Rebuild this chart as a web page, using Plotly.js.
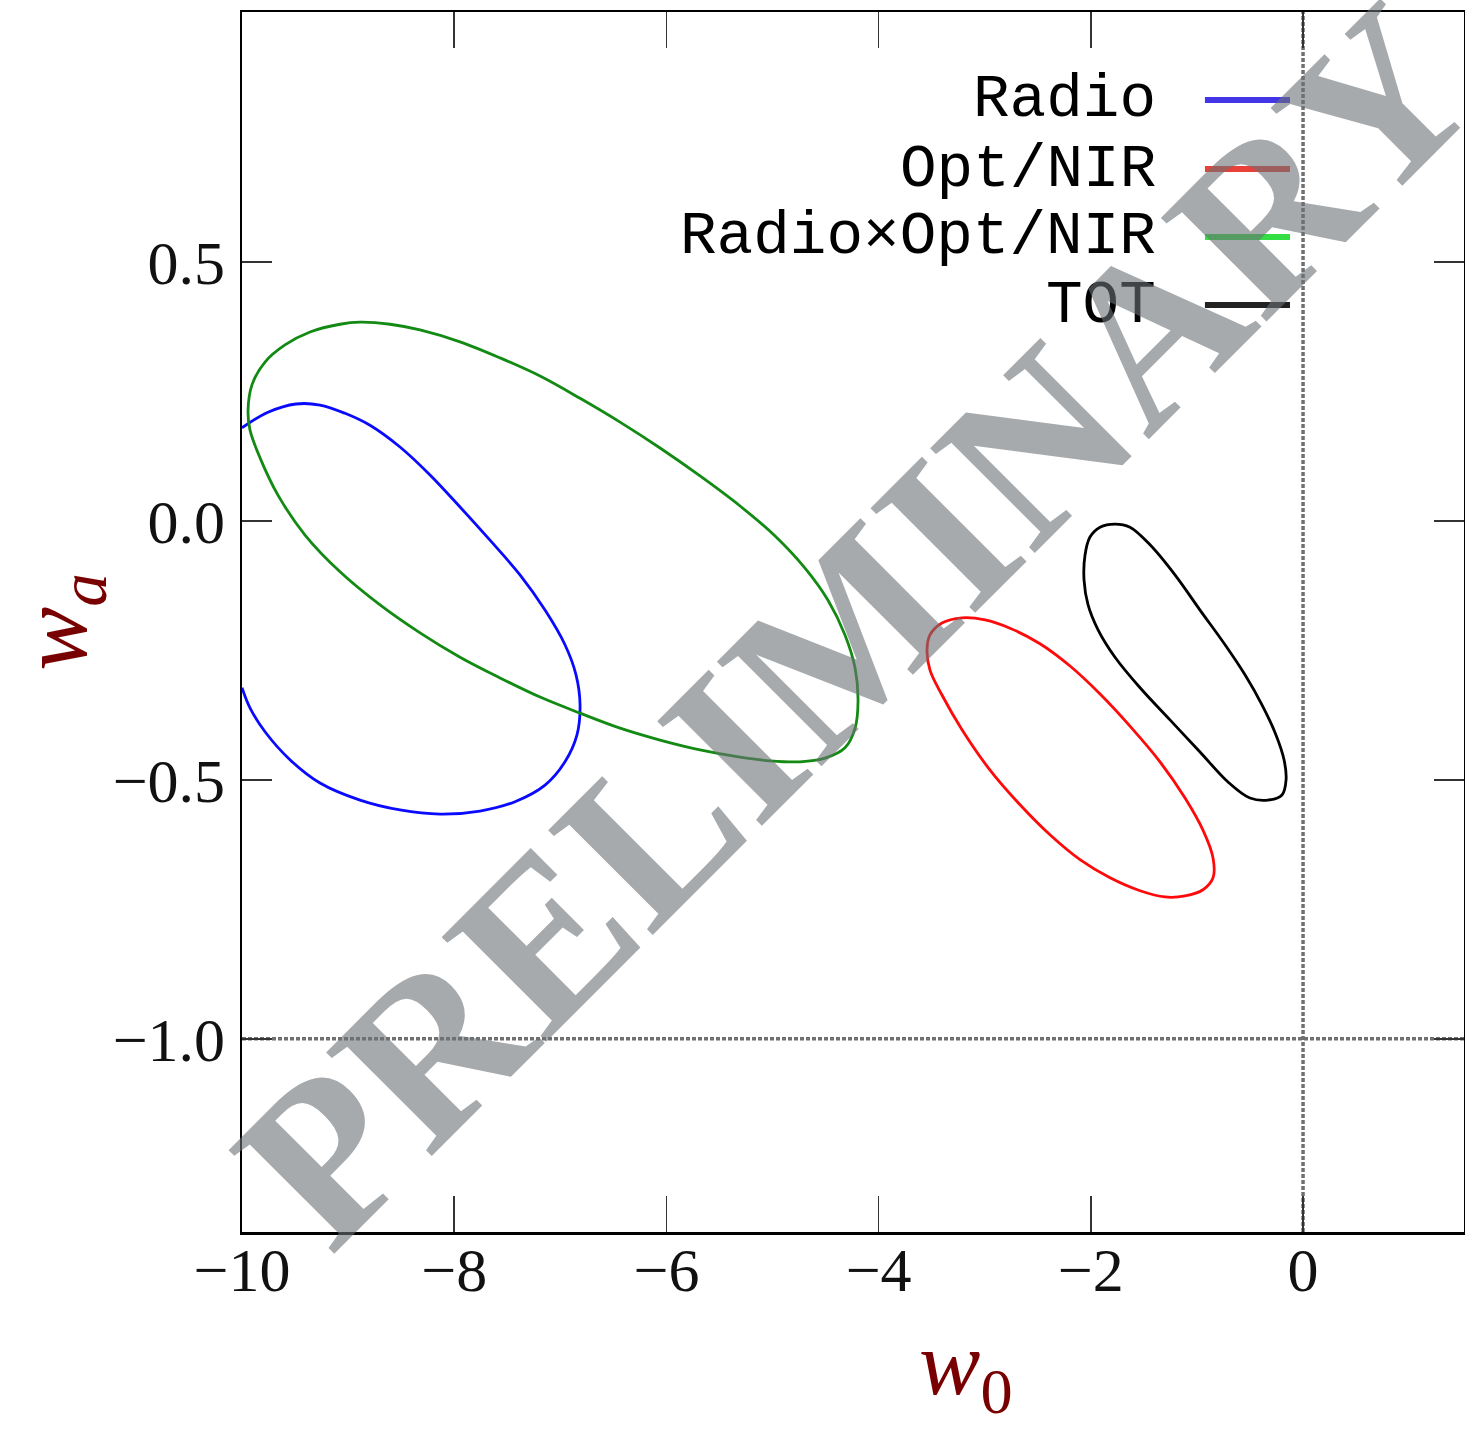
<!DOCTYPE html>
<html>
<head>
<meta charset="utf-8">
<script src="https://cdn.plot.ly/plotly-3.0.1.min.js"></script>
<style>
html, body { margin: 0; padding: 0; background: #fff; overflow: hidden; }
#chart { width: 1465px; height: 1429px; }
</style>
</head>
<body>
<div id="chart"></div>
<script>
// ---- data ----
const seriesNames = ['Radio', 'Opt/NIR', 'Radio×Opt/NIR', 'TOT'];

const radioW0 = [-10.000, -9.755, -9.491, -9.265, -9.029, -8.794, -8.511, -8.228, -7.945, -7.663, -7.380, -7.144, -6.956, -6.852, -6.814, -6.843, -6.956, -7.144, -7.427, -7.757, -8.134, -8.511, -8.888, -9.265, -9.548, -9.783, -9.925, -10.000];
const radioWa = [0.180, 0.210, 0.226, 0.224, 0.208, 0.185, 0.143, 0.089, 0.027, -0.037, -0.104, -0.172, -0.239, -0.297, -0.355, -0.413, -0.465, -0.510, -0.542, -0.560, -0.566, -0.558, -0.539, -0.506, -0.461, -0.407, -0.361, -0.322];

const optW0 = [-1.913, -1.631, -1.348, -1.112, -0.943, -0.848, -0.848, -0.943, -1.112, -1.301, -1.536, -1.819, -2.102, -2.385, -2.667, -2.950, -3.214, -3.403, -3.516, -3.544, -3.516, -3.403, -3.214, -2.997, -2.762, -2.479, -2.196, -1.913];
const optWa = [-0.334, -0.396, -0.465, -0.535, -0.597, -0.651, -0.689, -0.712, -0.724, -0.726, -0.714, -0.689, -0.654, -0.606, -0.548, -0.481, -0.403, -0.336, -0.288, -0.249, -0.220, -0.197, -0.187, -0.191, -0.207, -0.237, -0.280, -0.334];

const crossW0 = [-6.814, -6.437, -6.060, -5.683, -5.306, -4.976, -4.694, -4.477, -4.317, -4.222, -4.194, -4.222, -4.317, -4.505, -4.741, -5.024, -5.306, -5.683, -6.060, -6.437, -6.814, -7.191, -7.568, -7.945, -8.322, -8.699, -9.076, -9.406, -9.661, -9.830, -9.925, -9.943, -9.906, -9.783, -9.595, -9.359, -9.076, -8.888, -8.605, -8.322, -7.945, -7.568, -7.191, -6.814];
const crossWa = [0.237, 0.191, 0.141, 0.087, 0.029, -0.029, -0.091, -0.153, -0.220, -0.284, -0.346, -0.400, -0.438, -0.458, -0.465, -0.463, -0.456, -0.442, -0.423, -0.400, -0.371, -0.340, -0.303, -0.263, -0.216, -0.162, -0.098, -0.027, 0.050, 0.122, 0.176, 0.214, 0.263, 0.307, 0.340, 0.365, 0.380, 0.384, 0.380, 0.369, 0.346, 0.315, 0.280, 0.237];

const totW0 = [-1.254, -0.971, -0.707, -0.500, -0.330, -0.198, -0.160, -0.179, -0.255, -0.387, -0.547, -0.735, -0.971, -1.207, -1.442, -1.631, -1.772, -1.913, -2.008, -2.055, -2.064, -2.026, -1.932, -1.772, -1.536, -1.254];
const totWa = [-0.384, -0.446, -0.504, -0.535, -0.539, -0.529, -0.500, -0.461, -0.413, -0.355, -0.297, -0.239, -0.172, -0.104, -0.046, -0.012, -0.006, -0.012, -0.031, -0.066, -0.114, -0.162, -0.210, -0.263, -0.322, -0.384];

const xTickVals = [-10, -8, -6, -4, -2, 0];
const xTickText = ['\u221210', '\u22128', '\u22126', '\u22124', '\u22122', '0'];
const yTickVals = [0.5, 0.0, -0.5, -1.0];
const yTickText = ['0.5', '0.0', '\u22120.5', '\u22121.0'];

const refW0 = 0;     // vertical dotted line
const refWa = -1;    // horizontal dotted line

const xRange = [-10, 1.517];
const yRange = [-1.373, 0.983];

// ---- styles ----
const lineColors = ['#0a0aff', '#ff0a0a', '#138a13', '#000000'];
const legendColors = ['#4436e6', '#e8413a', '#33dd44', '#222222'];

const curves = [[radioW0, radioWa], [optW0, optWa], [crossW0, crossWa], [totW0, totWa]];

const traces = curves.map((c, i) => ({
  type: 'scatter',
  mode: 'lines',
  x: c[0],
  y: c[1],
  name: seriesNames[i],
  showlegend: false,
  hoverinfo: 'skip',
  line: { color: lineColors[i], width: 2.8, shape: 'spline', smoothing: 1.0 }
}));

// custom legend (text left, line sample right)
const legendTextX = 0.7496;
const legendLineX0 = 0.788;
const legendLineX1 = 0.8576;
const legendY = [0.9279, 0.8713, 0.8156, 0.7598];

const annotations = [];
const shapes = [
  { type: 'line', xref: 'x', yref: 'paper', x0: refW0, x1: refW0, y0: 0, y1: 1,
    line: { color: '#707070', width: 3.5, dash: '4px,2px' }, layer: 'below' },
  { type: 'line', xref: 'paper', yref: 'y', x0: 0, x1: 1, y0: refWa, y1: refWa,
    line: { color: '#707070', width: 3.5, dash: '4px,2px' }, layer: 'below' }
];

seriesNames.forEach((nm, i) => {
  annotations.push({
    xref: 'paper', yref: 'paper', x: legendTextX, y: legendY[i],
    xanchor: 'right', yanchor: 'middle', showarrow: false, text: nm,
    font: { family: 'Liberation Mono, DejaVu Sans Mono, monospace', size: 61, color: '#000' }
  });
  shapes.push({
    type: 'line', xref: 'paper', yref: 'paper',
    x0: legendLineX0, x1: legendLineX1, y0: legendY[i], y1: legendY[i],
    line: { color: legendColors[i], width: 6 }
  });
});

// x axis title (placed as in reference, off-centre)
annotations.push({
  xref: 'paper', yref: 'paper', x: 0.5925, y: -0.1612,
  xanchor: 'center', yanchor: 'bottom', showarrow: false,
  text: '<i>w</i><sub>0</sub>',
  font: { family: 'Liberation Serif, DejaVu Serif, serif', size: 92, color: '#780000' }
});

// watermark
annotations.push({
  xref: 'paper', yref: 'paper', x: 0.502, y: 0.4975,
  xanchor: 'center', yanchor: 'middle', showarrow: false,
  text: '<b>PRELIMINARY</b>', textangle: -45,
  font: { family: 'Liberation Serif, DejaVu Serif, serif', size: 226, color: 'rgba(108,113,118,0.6)' }
});

const layout = {
  width: 1465,
  height: 1429,
  margin: { l: 242, r: 1, t: 12, b: 197, pad: 0 },
  paper_bgcolor: '#ffffff',
  plot_bgcolor: '#ffffff',
  showlegend: false,
  xaxis: {
    range: xRange,
    tickvals: xTickVals,
    ticktext: xTickText,
    ticks: 'inside',
    ticklen: 36,
    tickwidth: 1.5,
    tickcolor: '#333',
    showline: true,
    linecolor: '#000',
    linewidth: 2.5,
    mirror: 'ticks',
    showgrid: false,
    zeroline: false,
    tickfont: { family: 'Liberation Serif, DejaVu Serif, serif', size: 62, color: '#111' },
    ticklabelstandoff: -18
  },
  yaxis: {
    range: yRange,
    tickvals: yTickVals,
    ticktext: yTickText,
    ticks: 'inside',
    ticklen: 30,
    tickwidth: 1.5,
    tickcolor: '#333',
    showline: true,
    linecolor: '#000',
    linewidth: 2.5,
    mirror: 'ticks',
    showgrid: false,
    zeroline: false,
    tickfont: { family: 'Liberation Serif, DejaVu Serif, serif', size: 62, color: '#111' },
    ticklabelstandoff: 2,
    title: {
      text: '<i>w</i><sub><i>a</i></sub>',
      font: { family: 'Liberation Serif, DejaVu Serif, serif', size: 96, color: '#780000' },
      standoff: 38
    }
  },
  annotations: annotations,
  shapes: shapes
};

Plotly.newPlot('chart', traces, layout, { displayModeBar: false, staticPlot: true });
</script>
</body>
</html>
